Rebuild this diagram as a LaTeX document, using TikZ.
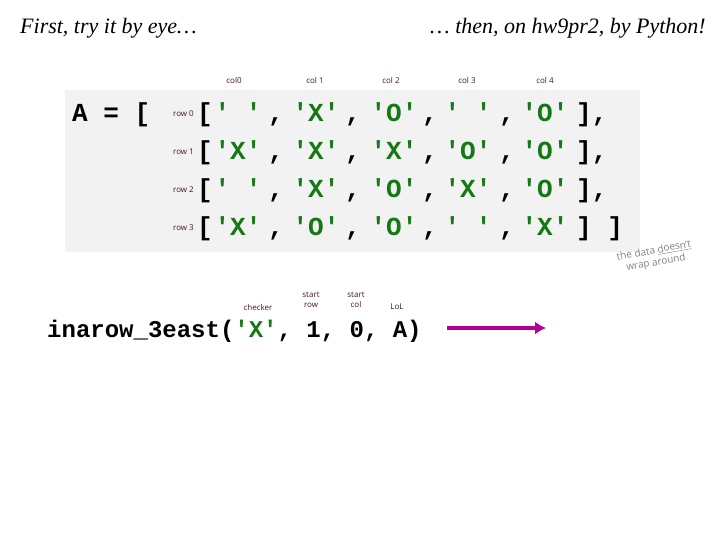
\documentclass[tikz,border=0pt]{standalone}
\usepackage{fontspec}
\setmainfont{Liberation Serif}
\setmonofont{Liberation Mono}
\setsansfont{Open Sans}
\usepackage{tikz}
\usetikzlibrary{arrows.meta}
\definecolor{grn}{RGB}{20,120,20}
\definecolor{lbl}{RGB}{70,20,30}
\definecolor{bgg}{RGB}{242,242,242}
\definecolor{mag}{RGB}{180,0,150}
\begin{document}
\begin{tikzpicture}[x=1pt,y=-1pt,
 cell/.style={font=\ttfamily\bfseries\fontsize{26}{26}\selectfont,text=grn,inner sep=0pt,anchor=base},
 blk/.style={font=\ttfamily\bfseries\fontsize{26}{26}\selectfont,inner sep=0pt,anchor=base},
 sm/.style={font=\sffamily\fontsize{8}{9.5}\selectfont,text=lbl,inner sep=0pt,align=center},
 ttl/.style={font=\itshape\fontsize{22}{22}\selectfont,inner sep=0pt}]
\useasboundingbox (0,0) rectangle (720,540);
\fill[bgg] (65,90) rectangle (640,252);
\node[ttl,anchor=west] (t1) at (20,28) {First, try it by eye…};
\node[ttl,anchor=east] (t2) at (706,28) {… then, on hw9pr2, by Python!};
\foreach \x/\t [count=\i from 0] in {234/col0,315/col 1,391/col 2,467/col 3,545/col 4}
  \node[sm] (c\i) at (\x,81) {\t};
\node[blk,anchor=base west] (A) at (72,122) {A = [};
\foreach \r/\y/\a/\b/\c/\d/\e/\en in {0/122/' '/'X'/'O'/' '/'O'/{],},1/160/'X'/'X'/'X'/'O'/'O'/{],},2/198/' '/'X'/'O'/'X'/'O'/{],},3/236/'X'/'O'/'O'/' '/'X'/{] ]}}{
  \node[sm,anchor=east] (r\r) at (194,\y-8) {row \r};
  \node[blk] (o\r) at (205,\y) {[};
  \node[cell] (e\r0) at (238,\y) {\a};
  \node[cell] (e\r1) at (316,\y) {\b};
  \node[cell] (e\r2) at (394,\y) {\c};
  \node[cell] (e\r3) at (468,\y) {\d};
  \node[cell] (e\r4) at (545,\y) {\e};
  \foreach \cx [count=\k] in {276,353,430,507}
    \node[blk] (k\r\k) at (\cx,\y) {,};
  \node[blk,anchor=base west] (cl\r) at (576,\y) {\en};
}
\node[font=\sffamily\fontsize{10}{12}\selectfont,text=gray,rotate=10,align=center] (wr) at (655,257) {the data \underline{doesn't}\\wrap around};
\node[blk,font=\ttfamily\bfseries\fontsize{24}{24}\selectfont,anchor=base west] (call) at (47,337) {inarow\_3east(\textcolor{grn}{'X'}, 1, 0, A)};
\node[sm] (l1) at (258,307) {checker};
\node[sm] (l2) at (311,300) {start\\row};
\node[sm] (l3) at (356,300) {start\\col};
\node[sm] (l4) at (397,307) {LoL};
\coordinate (a1) at (447,328);
\coordinate (a2) at (546,328);
\draw[mag,line width=3.5pt,-{Latex[length=11pt,width=13pt]}] (a1) -- (a2);
\end{tikzpicture}
\end{document}
